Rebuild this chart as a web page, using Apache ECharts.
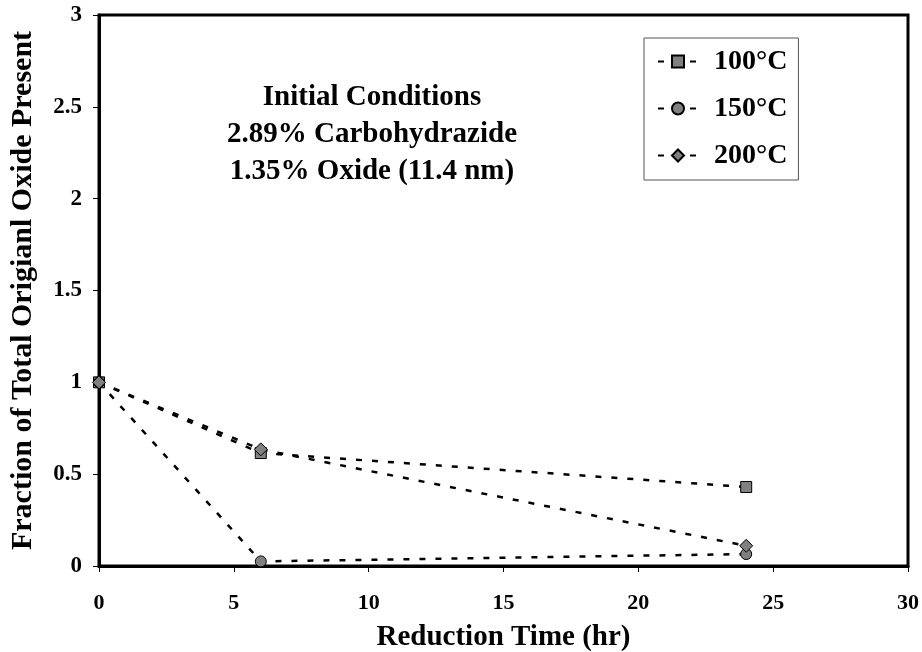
<!DOCTYPE html>
<html>
<head>
<meta charset="utf-8">
<script src="https://cdn.jsdelivr.net/npm/echarts@6/dist/echarts.min.js"></script>
<style>html,body{margin:0;padding:0;background:#fff;}#c{width:922px;height:652px;}</style>
</head>
<body>
<div id="c"></div>
<script>
var seriesNames = ['100\u00B0C', '150\u00B0C', '200\u00B0C'];
var timeHr = [0, 6, 24];
var val100 = [1.0, 0.615, 0.43];
var val150 = [1.0, 0.025, 0.065];
var val200 = [1.0, 0.635, 0.11];
var symbols = ['rect', 'circle', 'diamond'];
var annotation = ['Initial Conditions', '2.89% Carbohydrazide', '1.35% Oxide (11.4 nm)'];

var FONT = '"Liberation Serif", "Times New Roman", serif';
var allVals = [val100, val150, val200];

function pairs(xs, ys) { return xs.map(function (x, i) { return [x, ys[i]]; }); }

var series = seriesNames.map(function (n, i) {
  return {
    name: n,
    type: 'line',
    data: pairs(timeHr, allVals[i]),
    symbol: symbols[i],
    symbolSize: i === 2 ? 13 : 11,
    clip: false,
    lineStyle: { color: '#000', width: 2.5, type: [6, 10] },
    itemStyle: { color: '#808080', borderColor: '#000', borderWidth: 1 },
    emphasis: { disabled: true },
    animation: false
  };
});

var chart = echarts.init(document.getElementById('c'), null, { renderer: 'canvas' });
chart.setOption({
  backgroundColor: '#fff',
  animation: false,
  grid: { left: 99, right: 14, top: 15, bottom: 86, containLabel: false, outerBoundsMode: 'none', show: true, borderColor: '#000', borderWidth: 3, backgroundColor: 'transparent' },
  xAxis: {
    type: 'value', min: 0, max: 30, interval: 5,
    name: 'Reduction Time (hr)', nameLocation: 'middle', nameGap: 57,
    nameTextStyle: { fontFamily: FONT, fontWeight: 'bold', fontSize: 29, color: '#000' },
    axisLine: { show: true, lineStyle: { color: '#000', width: 3 } },
    axisTick: { show: true, inside: false, length: 6, lineStyle: { color: '#000', width: 1 } },
    axisLabel: { fontFamily: FONT, fontWeight: 'bold', fontSize: 22, color: '#000', margin: 26 },
    splitLine: { show: false }
  },
  yAxis: {
    type: 'value', min: 0, max: 3, interval: 0.5,
    name: 'Fraction of Total Origianl Oxide Present', nameLocation: 'middle', nameGap: 61,
    nameTextStyle: { fontFamily: FONT, fontWeight: 'bold', fontSize: 30, color: '#000' },
    axisLine: { show: true, lineStyle: { color: '#000', width: 3 } },
    axisTick: { show: true, inside: false, length: 6, lineStyle: { color: '#000', width: 1 } },
    axisLabel: { fontFamily: FONT, fontWeight: 'bold', fontSize: 23, color: '#000', margin: 17 },
    splitLine: { show: false }
  },
  legend: {
    data: seriesNames,
    orient: 'vertical',
    left: 644, top: 38,
    padding: [9, 11, 10, 13],
    itemGap: 18,
    itemWidth: 40, itemHeight: 15,
    borderColor: '#555', borderWidth: 1,
    backgroundColor: '#fff',
    selectedMode: false,
    textStyle: { fontFamily: FONT, fontWeight: 'bold', fontSize: 28, color: '#000', lineHeight: 29, padding: [0, 0, 0, 11] }
  },
  graphic: [{
    type: 'text',
    x: 372, y: 135,
    style: {
      text: annotation.join('\n'),
      font: 'bold 29px ' + FONT,
      fill: '#000',
      textAlign: 'center',
      textVerticalAlign: 'middle',
      lineHeight: 37
    }
  }],
  series: series
});
</script>
</body>
</html>
